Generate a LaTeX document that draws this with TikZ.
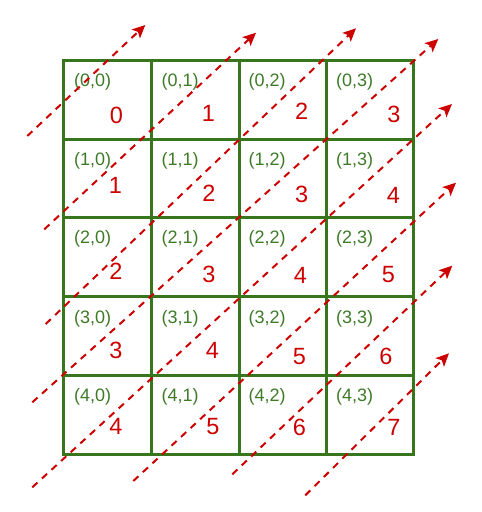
\documentclass[tikz,border=0pt]{standalone}
\usepackage{fontspec}
\setmainfont{Liberation Sans}
\usetikzlibrary{arrows.meta}
\definecolor{gridgreen}{RGB}{56,118,29}
\definecolor{txtgreen}{RGB}{62,122,40}
\definecolor{diagred}{RGB}{204,0,0}
\begin{document}
\begin{tikzpicture}[x=1pt,y=-1pt,
  gridline/.style={draw=gridgreen,line width=3pt},
  idxlabel/.style={anchor=west,inner sep=0pt,text=txtgreen,font=\fontsize{18}{18}\selectfont},
  sumlabel/.style={anchor=center,inner sep=0pt,text=diagred,font=\fontsize{23.5}{23.5}\selectfont},
  diag/.style={draw=diagred,line width=2pt,dash pattern=on 7pt off 6pt},
  diagarrow/.style={diag,-{Stealth[length=13pt,width=12pt,inset=3pt]}}]
\useasboundingbox (0,0) rectangle (482,512);
% grid
\foreach \x in {63.5,151.5,239,326.5,413.5} \draw[gridline] (\x,60) -- (\x,454);
\foreach \y in {60,139,217.5,296,375.5,454} \draw[gridline] (62,\y) -- (415,\y);
% index labels
\foreach \r/\yy in {0/82,1/160.5,2/239,3/318.5,4/397}{
  \foreach \c/\xx in {0/74,1/161.5,2/248.5,3/336}{
    \node[idxlabel] (i\r\c) at (\xx,\yy) {(\r,\c)};
  }
}
% sum labels
\node[sumlabel] (s00) at (116.5,115) {0};
\node[sumlabel] (s01) at (208.5,113) {1};
\node[sumlabel] (s02) at (301.7,111) {2};
\node[sumlabel] (s03) at (394,114.3) {3};
\node[sumlabel] (s10) at (115.5,185.5) {1};
\node[sumlabel] (s11) at (209,193) {2};
\node[sumlabel] (s12) at (301.7,194.5) {3};
\node[sumlabel] (s13) at (393.5,195.3) {4};
\node[sumlabel] (s20) at (116,271) {2};
\node[sumlabel] (s21) at (209,274.7) {3};
\node[sumlabel] (s22) at (300.5,275.5) {4};
\node[sumlabel] (s23) at (388.5,275) {5};
\node[sumlabel] (s30) at (116,350) {3};
\node[sumlabel] (s31) at (212.5,350) {4};
\node[sumlabel] (s32) at (299.5,356.3) {5};
\node[sumlabel] (s33) at (386,356.3) {6};
\node[sumlabel] (s40) at (116,426) {4};
\node[sumlabel] (s41) at (212.8,427) {5};
\node[sumlabel] (s42) at (299.5,427) {6};
\node[sumlabel] (s43) at (394,427) {7};
% diagonal arrows
\coordinate (a0) at (27.3,136);   \coordinate (b0) at (145.3,25);
\coordinate (a1) at (44.3,229.3); \coordinate (b1) at (256,32.7);
\coordinate (a2) at (45.7,324);   \coordinate (b2) at (356,28.3);
\coordinate (a3) at (32.3,402.3); \coordinate (b3) at (438.3,39);
\coordinate (a4) at (32.3,487.3); \coordinate (b4) at (452,104);
\coordinate (a5) at (133.3,481);  \coordinate (b5) at (456,182.7);
\coordinate (a6) at (232.3,474.3);\coordinate (b6) at (452.3,265.7);
\coordinate (a7) at (305.3,495.3);\coordinate (b7) at (449,353.3);
\foreach \k in {0,...,7} \draw[diagarrow] (a\k) -- (b\k);
\end{tikzpicture}
\end{document}
